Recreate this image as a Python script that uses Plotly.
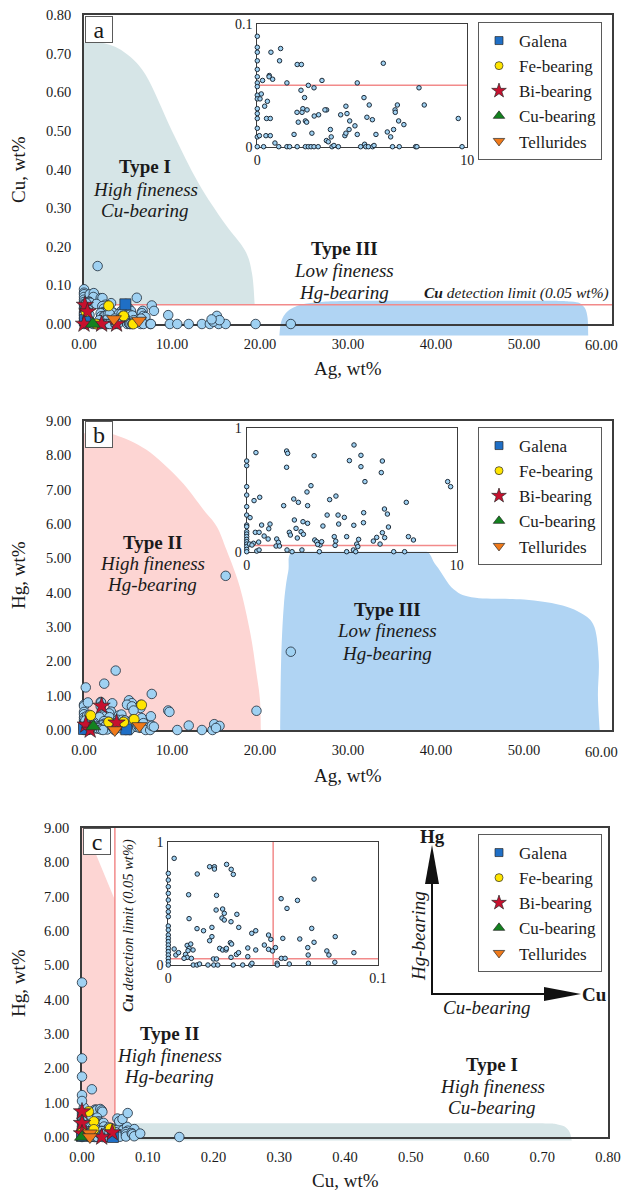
import plotly.graph_objects as go
import numpy as np

W, H = 629, 1193
OFF = 8  # page body margin of the html page
FONT = "Liberation Serif"

# ---------------- DATA ----------------
# Panel a: Ag (wt%) vs Cu (wt%), all analyses (light blue)
a_ag = [0, 0, 0, 0, 0, 0, 0, 0, 0, 0, 0, 0, 0, 0, 0, 0,
        0.65, 1.11, 1.06, 1.90, 2.10, 0.57, 0.56, 0.73, 0.25, 1.41,
        3.08, 4.76, 6.00, 7.70, 2.43, 2.70, 2.08, 0.19, 0.13, 0.48,
        0.35, 2.25, 2.17, 2.37, 2.13, 1.89, 5.08, 5.33, 4.22, 3.30,
        3.22, 0.44, 0.62, 1.95, 2.29, 2.35, 2.71, 2.92, 3.97, 4.27,
        5.22, 5.48, 4.40, 6.56, 6.67, 6.57, 6.73, 6.98, 7.95, 9.57,
        3.48, 3.52, 3.29, 3.38, 2.60, 1.75, 4.17, 4.22, 4.37, 4.65,
        4.76, 6.19, 6.35, 6.49, 5.65, 0.41, 0.62, 0.10, 0.84,
        0.30, 1.02, 1.41, 1.54, 1.90, 2.29, 2.43, 2.56, 2.70, 2.90,
        3.56, 3.65, 3.86, 4.92, 5.11, 5.17, 5.29, 5.49, 5.56, 6.44,
        6.76, 7.54, 7.60, 9.75,
        1.55, 10.6, 11.9, 13.4, 14.3, 15.3, 16.1, 19.5, 23.5, 14.7,
        15.1, 15.4, 14.5]
a_cu = [0.090, 0.081, 0.077, 0.070, 0.063, 0.057, 0.052, 0.049, 0.042, 0.039,
        0.031, 0.027, 0.023, 0.015, 0.008, 0.000,
        0.077, 0.080, 0.070, 0.067, 0.067, 0.058, 0.057, 0.055, 0.054, 0.052,
        0.054, 0.052, 0.068, 0.048, 0.050, 0.048, 0.046, 0.043, 0.039, 0.037,
        0.033, 0.040, 0.031, 0.030, 0.028, 0.028, 0.040, 0.034, 0.033, 0.030,
        0.030, 0.023, 0.023, 0.020, 0.021, 0.020, 0.025, 0.026, 0.026, 0.027,
        0.024, 0.022, 0.021, 0.030, 0.034, 0.028, 0.021, 0.018, 0.034, 0.023,
        0.014, 0.008, 0.005, 0.004, 0.011, 0.010, 0.009, 0.011, 0.014, 0.017,
        0.010, 0.012, 0.008, 0.014, 0.010, 0.009, 0.009, 0.009, 0.003,
        0, 0, 0, 0, 0, 0, 0, 0, 0, 0,
        0, 0.001, 0, 0, 0.002, 0, 0, 0, 0.001, 0,
        0, 0, 0, 0,
        0.150, 0, 0, 0, 0, 0, 0, 0, 0, 0.006,
        0.021, 0.010, 0.012]

# Panel b: Ag (wt%) vs Hg (wt%)
b_ag = [0, 0, 0, 0, 0, 0, 0, 0, 0, 0, 0, 0, 0, 0, 0, 0, 0,
        0.44, 1.90, 1.95, 1.90, 3.21, 5.11, 5.44, 4.89, 5.44, 6.46,
        6.41, 5.63, 9.57, 9.71, 3.06, 2.87, 2.24, 2.46, 1.76, 2.90,
        3.95, 4.25, 0.35, 0.62, 0.16, 3.83, 4.35, 4.65, 5.57, 5.10,
        5.56, 4.38, 3.63, 2.90, 2.68, 2.27, 2.35, 2.03, 2.08, 2.59,
        2.70, 2.41, 1.11, 1.05, 0.71, 0.41, 0.59, 0.83, 1.02, 1.43,
        1.51, 1.40, 1.56, 0.32, 0.13, 0.57, 0.25, 0.48, 0.59, 1.92,
        2.63, 3.24, 3.33, 3.49, 3.57, 3.38, 4.17, 4.24, 4.21, 4.76,
        5.24, 5.29, 5.33, 5.08, 5.19, 4.76, 3.46, 2.16, 6.03, 6.19,
        6.46, 6.57, 6.70, 6.56, 6.75, 6.35, 7.00, 7.52, 7.60, 7.70,
        7.94,
        16.1, 23.5, 19.6, 3.6, 0.2, 2.3, 7.7, 10.6, 11.9, 13.4,
        14.6, 14.8, 15.4, 15.0]
b_hg = [0.735, 0.697, 0.527, 0.459, 0.365, 0.297, 0.216, 0.203, 0.162, 0.143,
        0.122, 0.100, 0.081, 0.062, 0.041, 0.019, 0.0,
        0.803, 0.816, 0.797, 0.684, 0.778, 0.865, 0.781, 0.738, 0.689, 0.735,
        0.641, 0.568, 0.568, 0.527, 0.535, 0.484, 0.427, 0.400, 0.373, 0.373,
        0.422, 0.451, 0.414, 0.441, 0.276, 0.297, 0.297, 0.278, 0.316, 0.214,
        0.235, 0.224, 0.208, 0.230, 0.243, 0.257, 0.189, 0.157, 0.135, 0.162,
        0.141, 0.111, 0.224, 0.186, 0.216, 0.157, 0.157, 0.127, 0.103, 0.103,
        0.076, 0.046, 0.046, 0.068, 0.062, 0.078, 0.054, 0.005, 0.014, 0.014,
        0.014, 0.095, 0.081, 0.054, 0.081, 0.059, 0.122, 0.086, 0.051, 0.122,
        0.062, 0.041, 0.100, 0.014, 0.0, 0.0, 0.0, 0.0, 0.086, 0.116,
        0.154, 0.114, 0.305, 0.346, 0.200, 0.062, 0.0, 0.0, 0.400, 0.122,
        0.095,
        4.49, 2.28, 0.56, 1.73, 1.24, 1.35, 1.05, 0.0, 0.13, 0.0,
        0.0, 0.17, 0.12, 0.06]

# Panel c: Cu (wt%) vs Hg (wt%)
c_cu = [0, 0, 0, 0, 0, 0, 0, 0, 0, 0, 0, 0, 0, 0, 0, 0, 0, 0, 0, 0,
        0.0028, 0.0138, 0.0197, 0.0220, 0.0220, 0.0278, 0.0300, 0.0310, 0.0097, 0.0230,
        0.0099, 0.0228, 0.0259, 0.0267, 0.0256, 0.0267, 0.0299, 0.0327, 0.0208, 0.0137,
        0.0168, 0.0336, 0.0197, 0.0208, 0.0398, 0.0417, 0.0478, 0.0489, 0.0458, 0.0546,
        0.0627, 0.0684, 0.0695, 0.0796, 0.0538, 0.0566, 0.0616, 0.0695, 0.0028, 0.0036,
        0.0049, 0.0082, 0.0090, 0.0107, 0.0099, 0.0094, 0.0118, 0.0090, 0.0075, 0.0110,
        0.0119, 0.0137, 0.0149, 0.0189, 0.0215, 0.0230, 0.0217, 0.0236, 0.0245, 0.0259,
        0.0275, 0.0277, 0.0296, 0.0302, 0.0299, 0.0310, 0.0325, 0.0335, 0.0355, 0.0379,
        0.0379, 0.0393, 0.0399, 0.0417, 0.0478, 0.0497, 0.0511, 0.0519, 0.0520, 0.0539,
        0.0557, 0.0577, 0.0665, 0.0667, 0.0668, 0.0756, 0.0766, 0.0794, 0.0885,
        0, 0, 0, 0, 0.015, 0, 0.148]
c_hg = [0.743, 0.689, 0.635, 0.581, 0.527, 0.473, 0.432, 0.392, 0.316, 0.284,
        0.243, 0.216, 0.189, 0.162, 0.135, 0.108, 0.081, 0.054, 0.027, 0.0,
        0.865, 0.738, 0.797, 0.797, 0.778, 0.816, 0.776, 0.735, 0.570, 0.565,
        0.376, 0.446, 0.454, 0.419, 0.381, 0.365, 0.351, 0.411, 0.305, 0.295,
        0.278, 0.305, 0.197, 0.230, 0.257, 0.278, 0.243, 0.208, 0.162, 0.216,
        0.211, 0.297, 0.184, 0.230, 0.538, 0.459, 0.524, 0.697, 0.130, 0.081,
        0.100, 0.086, 0.159, 0.170, 0.135, 0.116, 0.122, 0.062, 0.054, 0.054,
        0.0, 0.0, 0.008, 0.0, 0.049, 0.049, 0.0, 0.0, 0.135, 0.122,
        0.122, 0.135, 0.181, 0.170, 0.062, 0.0, 0.086, 0.100, 0.0, 0.068,
        0.138, 0.0, 0.014, 0.122, 0.127, 0.114, 0.141, 0.014, 0.0, 0.054,
        0.054, 0.008, 0.141, 0.081, 0.014, 0.114, 0.081, 0.022, 0.100,
        4.50, 2.29, 1.76, 1.22, 1.39, 1.05, 0.0]

# Inclusion-bearing grains (x, y per panel)
groups = ["Galena", "Fe-bearing", "Bi-bearing", "Cu-bearing", "Tellurides"]
a_sp_x = {"Galena": [4.7, 0.1], "Fe-bearing": [2.8, 4.5, 5.6, 0.23, 1.4],
          "Bi-bearing": [0.1, 0.4, 0.0, 2.0, 3.7], "Cu-bearing": [1.0],
          "Tellurides": [3.4, 6.25]}
a_sp_y = {"Galena": [0.051, 0.010], "Fe-bearing": [0.047, 0.021, 0.0, 0.032, 0.0],
          "Bi-bearing": [0.049, 0.032, 0.0, 0.0, 0.0], "Cu-bearing": [0.0],
          "Tellurides": [0.013, 0.009]}
b_sp_x = {"Galena": [4.8, 0.0], "Fe-bearing": [0.76, 2.8, 4.5, 5.7, 6.55],
          "Bi-bearing": [2.0, 0.2, 0.7, 3.7], "Cu-bearing": [1.06],
          "Tellurides": [3.5, 6.3]}
b_sp_y = {"Galena": [0.02, 0.03], "Fe-bearing": [0.42, 0.23, 0.23, 0.31, 0.73],
          "Bi-bearing": [0.70, 0.15, 0.0, 0.21], "Cu-bearing": [0.10],
          "Tellurides": [0.0, 0.12]}
c_sp_x = {"Galena": [0.047, 0.0], "Fe-bearing": [0.010, 0.018, 0.018, 0.0, 0.043],
          "Bi-bearing": [0.0, 0.0, 0.046, 0.030, 0.0], "Cu-bearing": [0.0],
          "Tellurides": [0.012, 0.012]}
c_sp_y = {"Galena": [0.0, 0.03], "Fe-bearing": [0.74, 0.45, 0.22, 0.20, 0.25],
          "Bi-bearing": [0.74, 0.40, 0.13, 0.0, 0.10], "Cu-bearing": [0.0],
          "Tellurides": [0.11, 0.0]}

# Ag axis tick values (panels a and b)
ag_ticks = [0, 10, 20, 30, 40, 50, 60]

# Field outlines (data units of each panel)
a_typeI_x = [0, 2.0, 4.5, 7.0, 10.0, 13.0, 16.0, 18.3, 19.1, 19.4]
a_typeI_y = [0.728, 0.728, 0.705, 0.645, 0.50, 0.365, 0.26, 0.19, 0.13, 0.05]
a_typeIII_x = [22.2, 22.5, 23.6, 26, 32, 50, 55.3, 56.7, 57.2, 57.3]
a_typeIII_y = [-0.03, 0.012, 0.04, 0.055, 0.06, 0.06, 0.058, 0.047, 0.02, -0.03]
b_typeII_x = [0, 1.5, 3.5, 7.1, 10.9, 13.6, 15.1, 16.2, 17.7, 18.9, 19.6, 20.0, 20.1]
b_typeII_y = [8.64, 8.66, 8.6, 8.16, 7.28, 6.41, 5.92, 5.24, 4.17, 2.82, 1.65, 0.87, 0]
b_typeIII_x = [22.3, 22.4, 22.7, 23.2, 24, 30, 38, 40, 42, 44.5, 50, 54, 56.5, 58, 58.5, 58.4, 58.6]
b_typeIII_y = [0, 2.0, 3.6, 4.6, 5.25, 5.35, 5.3, 4.8, 4.1, 3.85, 3.8, 3.65, 3.4, 3.0, 2.0, 1.0, 0]
c_typeII_x = [0, 0, 0.022, 0.022, 0.05, 0.05]
c_typeII_y = [0, 9, 9, 8.2, 6.9, 0]
c_typeI_x = [0.05, 0.2, 0.45, 0.68, 0.725, 0.74, 0.745]
c_typeI_y = [0.40, 0.40, 0.40, 0.40, 0.36, 0.2, -0.1]

DET = 0.05  # Cu detection limit, wt%

# ---------------- GEOMETRY (reference-image pixels) ----------------
P = {
    "a": dict(px=(84, 612), py=(324, 15), xr=(0, 60), yr=(0, 0.8)),
    "b": dict(px=(84, 612), py=(730, 421), xr=(0, 60), yr=(0, 9)),
    "c": dict(px=(82, 608), py=(1137, 828), xr=(0, 0.8), yr=(0, 9)),
    "ia": dict(px=(257.3, 467.3), py=(146.7, 24), xr=(0, 10), yr=(0, 0.1)),
    "ib": dict(px=(246.7, 456.7), py=(551.7, 428.3), xr=(0, 10), yr=(0, 1)),
    "ic": dict(px=(168.3, 378), py=(965, 841.7), xr=(0, 0.1), yr=(0, 1)),
}


def pp(px, py):
    return (px - OFF) / W, 1 - (py - OFF) / H


def dom(p):
    g = P[p]
    x0, y0 = pp(g["px"][0], g["py"][0])
    x1, y1 = pp(g["px"][1], g["py"][1])
    return [x0, x1], [y0, y1]


def to_paper(p, x, y):
    g = P[p]
    px = g["px"][0] + (x - g["xr"][0]) / (g["xr"][1] - g["xr"][0]) * (g["px"][1] - g["px"][0])
    py = g["py"][0] + (y - g["yr"][0]) / (g["yr"][1] - g["yr"][0]) * (g["py"][1] - g["py"][0])
    return pp(px, py)


def curve_path(p, xs, ys, close_x=(), close_y=()):
    pts = [np.array(to_paper(p, x, y)) for x, y in zip(xs, ys)]
    s = "M %.5f,%.5f" % tuple(pts[0])
    n = len(pts)
    for i in range(n - 1):
        p0 = pts[i - 1] if i > 0 else pts[i]
        p1, p2 = pts[i], pts[i + 1]
        p3 = pts[i + 2] if i + 2 < n else pts[i + 1]
        c1 = p1 + (p2 - p0) / 6
        c2 = p2 - (p3 - p1) / 6
        s += " C %.5f,%.5f %.5f,%.5f %.5f,%.5f" % (c1[0], c1[1], c2[0], c2[1], p2[0], p2[1])
    for x, y in zip(close_x, close_y):
        s += " L %.5f,%.5f" % to_paper(p, x, y)
    return s + " Z"


def poly_path(p, xs, ys):
    pts = [to_paper(p, x, y) for x, y in zip(xs, ys)]
    return "M " + " L ".join("%.5f,%.5f" % q for q in pts) + " Z"


TEAL = "#d6e5e7"
BLUE = "#b0d4f3"
PINK = "#fdd5d3"
RED = "#f28a8a"
PT_FILL = "#9fd1f2"
PT_LINE = "#1e2b38"
AXC = "#3c3c3c"

sym = {"Galena": "square", "Fe-bearing": "circle", "Bi-bearing": "star",
       "Cu-bearing": "triangle-up", "Tellurides": "triangle-down"}
col = {"Galena": "#1f6fc6", "Fe-bearing": "#ffe500", "Bi-bearing": "#c8102e",
       "Cu-bearing": "#13821f", "Tellurides": "#f07a1a"}
msize = {"Galena": 11, "Fe-bearing": 10, "Bi-bearing": 13, "Cu-bearing": 13, "Tellurides": 13}
lsize = {"Galena": 8, "Fe-bearing": 8, "Bi-bearing": 11, "Cu-bearing": 10, "Tellurides": 10}

fig = go.Figure()

panels = [("a", "x", "y", "ia", "x4", "y4", a_ag, a_cu, a_sp_x, a_sp_y, "legend"),
          ("b", "x2", "y2", "ib", "x5", "y5", b_ag, b_hg, b_sp_x, b_sp_y, "legend2"),
          ("c", "x3", "y3", "ic", "x6", "y6", c_cu, c_hg, c_sp_x, c_sp_y, "legend3")]

for (p, xa, ya, ip, ixa, iya, xs, ys, spx, spy, leg) in panels:
    assert len(xs) == len(ys), p
    fig.add_trace(go.Scatter(x=xs, y=ys, mode="markers", xaxis=xa, yaxis=ya,
                             marker=dict(size=9.5, color=PT_FILL, line=dict(color=PT_LINE, width=0.8)),
                             cliponaxis=False, showlegend=False, hoverinfo="skip"))
    for g in groups:
        fig.add_trace(go.Scatter(x=spx[g], y=spy[g], mode="markers", xaxis=xa, yaxis=ya,
                                 marker=dict(size=msize[g], symbol=sym[g], color=col[g],
                                             line=dict(color="#2a2a2a", width=0.7)),
                                 cliponaxis=False, showlegend=False, hoverinfo="skip"))
    for g in groups:
        fig.add_trace(go.Scatter(x=[None], y=[None], mode="markers", xaxis=xa, yaxis=ya,
                                 name=g, legend=leg,
                                 marker=dict(size=lsize[g], symbol=sym[g], color=col[g],
                                             line=dict(color="#2a2a2a", width=0.7))))

for (p, xa, ya, ip, ixa, iya, xs, ys, spx, spy, leg) in panels:
    g = P[ip]
    xv, yv = np.array(xs), np.array(ys)
    m = (xv <= g["xr"][1]) & (yv <= g["yr"][1])
    fig.add_trace(go.Scatter(x=xv[m], y=yv[m], mode="markers", xaxis=ixa, yaxis=iya,
                             marker=dict(size=4.5, color=PT_FILL, line=dict(color=PT_LINE, width=1)),
                             cliponaxis=False, showlegend=False, hoverinfo="skip"))

TICK = 14.5
tickfont = dict(family=FONT, size=TICK, color="#1a1a1a")
lay = dict(width=W, height=H, margin=dict(l=0, r=0, t=0, b=0, pad=0, autoexpand=False),
           paper_bgcolor="white", plot_bgcolor="white", showlegend=True,
           font=dict(family=FONT))


def axis(p, dtick, fmt, **kw):
    g = P[p]
    return dict(range=list(g["xr"] if kw.pop("isx") else g["yr"]), dtick=dtick, tick0=0, tickformat=fmt,
                showline=True, mirror=True, linecolor=AXC, linewidth=1.5, showgrid=False,
                zeroline=False, ticks="", tickfont=tickfont, layer="below traces",
                fixedrange=True, automargin=False, ticklabeloverflow="allow", **kw)


# last Ag tick label is drawn separately (right-aligned) so it stays inside the page
ag_text = ["%.2f" % v for v in ag_ticks[:-1]] + [""]
names = {"a": ("xaxis", "yaxis"), "b": ("xaxis2", "yaxis2"), "c": ("xaxis3", "yaxis3")}
for p, dx, dy in [("a", 10, 0.1), ("b", 10, 1), ("c", 0.1, 1)]:
    xd, yd = dom(p)
    an = "" if p == "a" else str({"b": 2, "c": 3}[p])
    xkw = dict(tickmode="array", tickvals=ag_ticks, ticktext=ag_text) if p in ("a", "b") else {}
    lay[names[p][0]] = axis(p, dx, ".2f", isx=True, domain=xd, anchor="y" + an,
                            ticklabelstandoff=6, **xkw)
    lay[names[p][1]] = axis(p, dy, ".2f", isx=False, domain=yd, anchor="x" + an, ticklabelstandoff=8)

insets = {"ia": (4, ["0", "10"], ["0", "0.1"]), "ib": (5, ["0", "10"], ["0", "1"]),
          "ic": (6, ["0", "0.1"], ["0", "1"])}
for ip, (k, xt, yt) in insets.items():
    g = P[ip]
    xd, yd = dom(ip)
    common = dict(showline=True, mirror=True, linecolor=AXC, linewidth=1.2, showgrid=False,
                  zeroline=False, ticks="", tickfont=dict(family=FONT, size=14, color="#1a1a1a"),
                  layer="below traces", fixedrange=True, automargin=False,
                  ticklabeloverflow="allow")
    lay["xaxis%d" % k] = dict(domain=xd, anchor="y%d" % k, range=list(g["xr"]),
                              tickvals=list(g["xr"]), ticktext=xt, ticklabelstandoff=0, **common)
    lay["yaxis%d" % k] = dict(domain=yd, anchor="x%d" % k, range=list(g["yr"]),
                              tickvals=list(g["yr"]), ticktext=yt, ticklabelstandoff=1, **common)

legstyle = dict(bgcolor="white", bordercolor="#5a5a5a", borderwidth=1,
                font=dict(family=FONT, size=17, color="#1a1a1a"),
                xanchor="left", yanchor="top", tracegroupgap=0)
lay["legend"] = dict(x=pp(478, 22)[0], y=pp(478, 22)[1], **legstyle)
lay["legend2"] = dict(x=pp(478, 427)[0], y=pp(478, 427)[1], **legstyle)
lay["legend3"] = dict(x=pp(478, 834)[0], y=pp(478, 834)[1], **legstyle)

shapes = [
    dict(type="path", xref="paper", yref="paper", layer="below", line=dict(width=0), fillcolor=TEAL,
         path=curve_path("a", a_typeI_x, a_typeI_y, [0], [DET])),
    dict(type="path", xref="paper", yref="paper", layer="below", line=dict(width=0), fillcolor=BLUE,
         path=curve_path("a", a_typeIII_x, a_typeIII_y)),
    dict(type="path", xref="paper", yref="paper", layer="below", line=dict(width=0), fillcolor=PINK,
         path=curve_path("b", b_typeII_x, b_typeII_y, [0], [0])),
    dict(type="path", xref="paper", yref="paper", layer="below", line=dict(width=0), fillcolor=BLUE,
         path=curve_path("b", b_typeIII_x, b_typeIII_y)),
    dict(type="path", xref="paper", yref="paper", layer="below", line=dict(width=0), fillcolor=PINK,
         path=poly_path("c", c_typeII_x, c_typeII_y)),
    dict(type="path", xref="paper", yref="paper", layer="below", line=dict(width=0), fillcolor=TEAL,
         path=curve_path("c", c_typeI_x, c_typeI_y, [0.05], [-0.1])),
    # detection limit lines
    dict(type="line", xref="x", yref="y", x0=0, x1=60, y0=DET, y1=DET, layer="below",
         line=dict(color=RED, width=1.5)),
    dict(type="line", xref="x4", yref="y4", x0=0, x1=10, y0=DET, y1=DET, layer="below",
         line=dict(color=RED, width=1.5)),
    dict(type="line", xref="x5", yref="y5", x0=0, x1=10, y0=DET, y1=DET, layer="below",
         line=dict(color=RED, width=1.5)),
    dict(type="line", xref="x3", yref="y3", x0=DET, x1=DET, y0=0, y1=9, layer="below",
         line=dict(color=RED, width=1.5)),
    dict(type="line", xref="x6", yref="y6", x0=DET, x1=DET, y0=0, y1=1, layer="below",
         line=dict(color=RED, width=1.5)),
    dict(type="line", xref="x6", yref="y6", x0=0, x1=0.1, y0=DET, y1=DET, layer="below",
         line=dict(color=RED, width=1.5)),
]

# schematic arrows in panel c
ox, oy = 432, 994
shapes += [
    dict(type="line", xref="paper", yref="paper", x0=pp(ox, oy)[0], y0=pp(ox, oy)[1],
         x1=pp(ox, 880)[0], y1=pp(ox, 880)[1], line=dict(color="#111", width=2)),
    dict(type="line", xref="paper", yref="paper", x0=pp(ox - 1, oy)[0], y0=pp(ox, oy)[1],
         x1=pp(546, oy)[0], y1=pp(546, oy)[1], line=dict(color="#111", width=2)),
    dict(type="path", xref="paper", yref="paper", fillcolor="#111", line=dict(width=0),
         path="M %.5f,%.5f L %.5f,%.5f L %.5f,%.5f Z" % (*pp(425, 884), *pp(439, 884), *pp(432, 845))),
    dict(type="path", xref="paper", yref="paper", fillcolor="#111", line=dict(width=0),
         path="M %.5f,%.5f L %.5f,%.5f L %.5f,%.5f Z" % (*pp(544, 987), *pp(544, 1001), *pp(581, 994))),
]
lay["shapes"] = shapes


def ann(px, py, text, size=19, angle=0, **kw):
    x, y = pp(px, py)
    d = dict(x=x, y=y, xref="paper", yref="paper", text=text, showarrow=False,
             font=dict(family=FONT, size=size, color="#1a1a1a"), textangle=angle,
             xanchor="center", yanchor="middle")
    d.update(kw)
    return d


annotations = [
    ann(18, 170, "Cu, wt%", 19, -90), ann(348, 369, "Ag, wt%", 19),
    ann(18, 575, "Hg, wt%", 19, -90), ann(348, 775, "Ag, wt%", 19),
    ann(18, 983, "Hg, wt%", 19, -90), ann(345, 1180, "Cu, wt%", 19),
    ann(145, 167, "<b>Type I</b>"), ann(145, 189, "<i>High fineness</i>"), ann(145, 210, "<i>Cu-bearing</i>"),
    ann(344, 248, "<b>Type III</b>"), ann(344, 270, "<i>Low fineness</i>"), ann(344, 292, "<i>Hg-bearing</i>"),
    ann(516, 293, "<b><i>Cu</i></b><i> detection limit (0.05 wt%)</i>", 15.5),
    ann(152, 542, "<b>Type II</b>"), ann(152, 563, "<i>High fineness</i>"), ann(152, 584, "<i>Hg-bearing</i>"),
    ann(387, 609, "<b>Type III</b>"), ann(387, 631, "<i>Low fineness</i>"), ann(387, 653, "<i>Hg-bearing</i>"),
    ann(169, 1033, "<b>Type II</b>"), ann(169, 1055, "<i>High fineness</i>"), ann(169, 1076, "<i>Hg-bearing</i>"),
    ann(492, 1064, "<b>Type I</b>"), ann(492, 1086, "<i>High fineness</i>"), ann(492, 1107, "<i>Cu-bearing</i>"),
    ann(128, 926, "<b><i>Cu</i></b><i> detection limit (0.05 wt%)</i>", 14.5, -90),
    ann(432, 836, "<b>Hg</b>"), ann(594, 994, "<b>Cu</b>"),
    ann(418, 936, "<i>Hg-bearing</i>", 19, -90), ann(487, 1007, "<i>Cu-bearing</i>"),
]
# right-most Ag tick labels of panels a and b
for xr_, lab_y in [("x", 345), ("x2", 752)]:
    annotations.append(dict(x=ag_ticks[-1], xref=xr_, y=pp(0, lab_y)[1], yref="paper",
                            text="%.2f" % ag_ticks[-1], showarrow=False, xanchor="right",
                            yanchor="middle", xshift=8,
                            font=dict(family=FONT, size=TICK, color="#1a1a1a")))
for lab, px, py in [("a", 84.5, 15.5), ("b", 84.5, 421), ("c", 82.5, 828)]:
    x, y = pp(px, py)
    annotations.append(dict(x=x, y=y, xref="paper", yref="paper", text=lab, showarrow=False,
                            xanchor="left", yanchor="top", width=26, height=25, borderpad=0,
                            bgcolor="white", bordercolor="#5a5a5a", borderwidth=1,
                            font=dict(family=FONT, size=24, color="#1a1a1a")))
lay["annotations"] = annotations

fig.update_layout(**lay)
fig.write_html("out.html")
